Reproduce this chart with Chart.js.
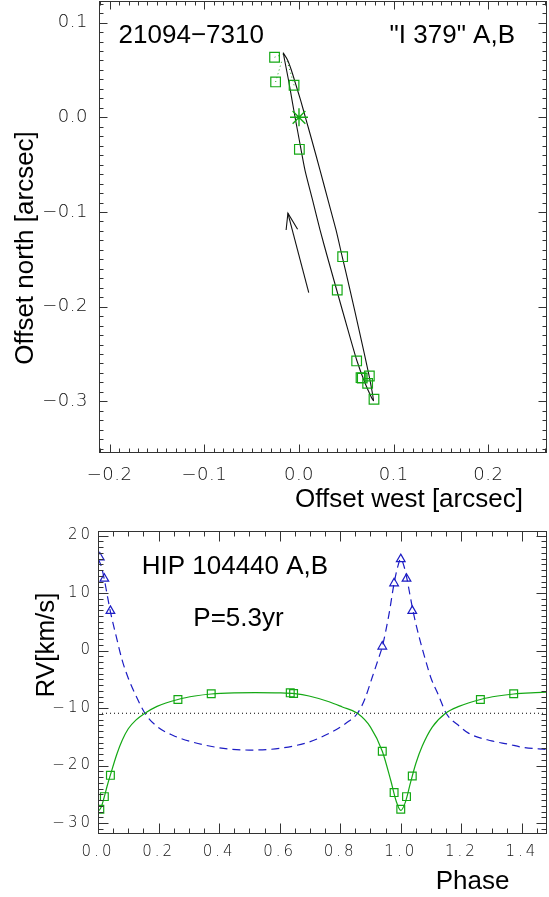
<!DOCTYPE html>
<html>
<head>
<meta charset="utf-8">
<script src="https://cdn.jsdelivr.net/npm/chart.js@4"></script>
<style>
  html, body { margin: 0; padding: 0; background: #fff; }
  #page { position: relative; width: 549px; height: 897px; overflow: hidden; }
  .panel { position: absolute; left: 0; }
</style>
</head>
<body>
<div id="page">
  <div class="panel" style="top:0"><canvas id="orbit" width="549" height="520"></canvas></div>
  <div class="panel" style="top:520px"><canvas id="rv" width="549" height="377"></canvas></div>
</div>
<script>
// ---- orbit panel (arcsec) ----
const obsWest  = [-0.0258, -0.0247, -0.0052, 0.0004, 0.0461, 0.0404, 0.0609, 0.0655, 0.0668, 0.0743, 0.0725, 0.0792];
const obsNorth = [0.0634, 0.0373, 0.0338, -0.0338, -0.1472, -0.1824, -0.2573, -0.2750, -0.2755, -0.2732, -0.2810, -0.2978];
const starWest = [0];
const starNorth = [0];
// fitted orbit, once round (down the east side, back up the west side)
const orbitWest  = [-0.0166, -0.0121, -0.0081, -0.0032, 0.0016, 0.0076, 0.0135, 0.0222, 0.0306, 0.0391, 0.0457, 0.0539, 0.0634, 0.0734, 0.0787,
                    0.0768, 0.0697, 0.0609, 0.0517, 0.0398, 0.0309, 0.0222, 0.0143, 0.0063, 0.0003, -0.0036, -0.0074, -0.0111, -0.0152, -0.0166];
const orbitNorth = [0.0682, 0.0605, 0.0499, 0.0341, 0.0183, -0.0029, -0.0240, -0.0557, -0.0873, -0.1190, -0.1475, -0.1824, -0.2246, -0.2700, -0.2991,
                    -0.2964, -0.2806, -0.2563, -0.2246, -0.1824, -0.1507, -0.1190, -0.0873, -0.0557, -0.0240, -0.0029, 0.0183, 0.0394, 0.0605, 0.0682];
const arrowWest  = [0.0103, -0.0117];
const arrowNorth = [-0.1852, -0.1014];
const arrowHeadWest  = [-0.0136, -0.0117, -0.0015];
const arrowHeadNorth = [-0.1190, -0.1014, -0.1183];
const residWest  = [[-0.0258, -0.0175], [-0.0247, -0.0183], [-0.0052, -0.0135]];
const residNorth = [[0.0634, 0.0665], [0.0373, 0.0590], [0.0338, 0.0630]];

// ---- RV panel (km/s) ----
const phaseA = [0.006, 0.021, 0.041, 0.264, 0.374, 0.635, 0.646, 0.939, 0.978, 1.000, 1.019, 1.038, 1.263, 1.373];
const rvA    = [-27.6, -25.4, -21.7, -8.5, -7.5, -7.35, -7.45, -17.5, -24.7, -27.6, -25.4, -21.8, -8.5, -7.5];
const phaseB = [0.006, 0.021, 0.041, 0.939, 0.978, 1.000, 1.019, 1.038];
const rvB    = [16.2, 12.5, 6.9, 0.7, 11.7, 15.9, 12.5, 6.9];
const curvePhaseA = [0.000, 0.010, 0.020, 0.030, 0.040, 0.063, 0.080, 0.100, 0.125, 0.155, 0.195, 0.264, 0.320, 0.374, 0.450, 0.520, 0.600, 0.650,
                     0.697, 0.763, 0.807, 0.857, 0.900, 0.939, 0.967, 0.985, 1.000, 1.015, 1.033, 1.050, 1.071, 1.104, 1.148, 1.192, 1.263,
                     1.320, 1.373, 1.430, 1.483];
const curveRvA = [-28.0, -27.3, -25.6, -23.6, -21.8, -17.9, -15.6, -13.6, -12.1, -10.9, -9.7, -8.5, -7.9, -7.55, -7.35, -7.3, -7.35, -7.5,
                  -7.9, -8.9, -9.8, -10.9, -13.3, -17.5, -22.6, -26.2, -27.8, -26.4, -22.8, -19.6, -16.6, -13.3, -10.9, -9.7, -8.5,
                  -7.9, -7.55, -7.35, -7.25];
const curvePhaseB = [0.000, 0.010, 0.020, 0.030, 0.040, 0.060, 0.080, 0.100, 0.125, 0.155, 0.195, 0.250, 0.305, 0.400, 0.500, 0.600, 0.697,
                     0.763, 0.820, 0.857, 0.880, 0.906, 0.925, 0.939, 0.960, 0.978, 0.990, 1.000, 1.010, 1.020, 1.030, 1.040, 1.060,
                     1.082, 1.100, 1.125, 1.150, 1.195, 1.225, 1.300, 1.357, 1.400, 1.483];
const curveRvB = [16.0, 14.8, 12.6, 9.8, 7.0, 2.5, -1.7, -4.8, -7.8, -10.9, -13.2, -14.8, -15.8, -16.9, -17.3, -17.0, -15.9,
                  -14.4, -12.6, -10.9, -8.6, -4.6, -1.6, 0.7, 6.0, 11.7, 14.6, 16.0, 14.8, 12.6, 9.8, 7.0, 2.5,
                  -1.7, -4.8, -7.8, -10.9, -13.2, -14.4, -15.7, -16.3, -16.8, -17.2];
const gamma = -10.9;

const GREEN = '#14a814';
const BLUE = '#1c1cc4';
const TITLE_FONT = '26px "Liberation Sans", Arial, sans-serif';

function pts(xs, ys) {
    return xs.map((x, i) => ({ x: x, y: ys[i] }));
}

function minus(s) {
    return s.replace('-', '\u2212');
}

// pin the axis box to a fixed size and stop label overhang from moving the plot area
function pinAxis(size) {
    return function (s) {
        if (s.isHorizontal()) s.height = size; else s.width = size;
        s.paddingLeft = s.paddingRight = s.paddingTop = s.paddingBottom = 0;
        s.getPadding = () => ({ left: 0, top: 0, right: 0, bottom: 0 });
    };
}

// box, inward ticks on all four sides, free text
function makeFrame(cfg) {
    return {
        id: 'frame',
        beforeDraw(chart) {
            chart.ctx.letterSpacing = cfg.spacing;
        },
        beforeDatasetsDraw(chart) {
            chart.ctx.letterSpacing = '0px';
        },
        afterDraw(chart) {
            const ctx = chart.ctx;
            const a = chart.chartArea;
            const sx = chart.scales.x;
            const sy = chart.scales.y;
            ctx.save();
            ctx.strokeStyle = '#333';
            ctx.lineWidth = 1;
            const L = Math.round(a.left) + 0.5, R = Math.round(a.right) - 0.5;
            const T = Math.round(a.top) + 0.5, B = Math.round(a.bottom) - 0.5;
            ctx.strokeRect(L, T, R - L, B - T);
            ctx.beginPath();
            const values = (scale, step) => {
                const out = [];
                for (let k = Math.ceil(scale.min / step - 1e-6); k * step <= scale.max + 1e-9; k++) out.push(k * step);
                return out;
            };
            const isMajor = (v, step) => Math.abs(v / step - Math.round(v / step)) < 1e-6;
            values(sx, cfg.xMinor).forEach(v => {
                const px = Math.round(sx.getPixelForValue(v)) + 0.5;
                const len = isMajor(v, cfg.xMajor) ? cfg.major : cfg.minor;
                ctx.moveTo(px, B); ctx.lineTo(px, B - len);
                ctx.moveTo(px, T); ctx.lineTo(px, T + len);
            });
            values(sy, cfg.yMinor).forEach(v => {
                const py = Math.round(sy.getPixelForValue(v)) + 0.5;
                const len = isMajor(v, cfg.yMajor) ? cfg.major : cfg.minor;
                ctx.moveTo(L, py); ctx.lineTo(L + len, py);
                ctx.moveTo(R, py); ctx.lineTo(R - len, py);
            });
            ctx.stroke();

            ctx.fillStyle = '#000';
            ctx.font = TITLE_FONT;
            ctx.textBaseline = 'alphabetic';
            cfg.texts.forEach(t => {
                ctx.save();
                ctx.textAlign = t.align;
                ctx.translate(t.x, t.y);
                if (t.rotate) ctx.rotate(-Math.PI / 2);
                ctx.fillText(t.text, 0, 0);
                ctx.restore();
            });
            ctx.restore();
        }
    };
}

function tickFont(size) {
    return { family: '"DejaVu Sans", sans-serif', size: size, weight: '300' };
}

const noGrid = { display: false, drawTicks: false };
const TICK_COLOR = '#111';

function load() {
    const squareStyle = {
        pointStyle: 'rect',
        backgroundColor: 'rgba(0,0,0,0)',
        borderColor: GREEN,
        borderWidth: 1.2,
        showLine: false
    };

    const residuals = residWest.map((w, i) => ({
        data: pts(w, residNorth[i]),
        showLine: true,
        pointRadius: 0,
        borderColor: GREEN,
        borderWidth: 1,
        borderDash: [1, 3]
    }));

    new Chart(document.getElementById('orbit'), {
        type: 'scatter',
        data: {
            datasets: [
                Object.assign({ data: pts(obsWest, obsNorth), pointRadius: 6.8 }, squareStyle),
                { data: pts(starWest, starNorth), pointStyle: 'star', pointRadius: 9, borderColor: GREEN, borderWidth: 1.4 },
                { data: pts(orbitWest, orbitNorth), showLine: true, pointRadius: 0, borderColor: '#111', borderWidth: 1.1, tension: 0.2 },
                { data: pts(arrowWest, arrowNorth), showLine: true, pointRadius: 0, borderColor: '#111', borderWidth: 1.1 },
                { data: pts(arrowHeadWest, arrowHeadNorth), showLine: true, pointRadius: 0, borderColor: '#111', borderWidth: 1.1 },
                ...residuals
            ]
        },
        options: {
            responsive: false,
            animation: false,
            events: [],
            layout: { autoPadding: false, padding: { left: 0, top: 1, right: 2, bottom: 0 } },
            plugins: { legend: { display: false }, tooltip: { enabled: false } },
            scales: {
                x: {
                    type: 'linear', min: -0.2112, max: 0.2619,
                    grid: noGrid, border: { display: false },
                    ticks: {
                        stepSize: 0.1, includeBounds: false, autoSkip: false, maxRotation: 0,
                        padding: 12, color: TICK_COLOR, font: tickFont(18),
                        callback: v => Math.abs(v) < 1e-9 ? '0.0' : minus(v.toFixed(1))
                    },
                    afterFit: pinAxis(67.5)
                },
                y: {
                    type: 'linear', min: -0.354, max: 0.1228,
                    grid: noGrid, border: { display: false },
                    ticks: {
                        stepSize: 0.1, includeBounds: false, autoSkip: false,
                        padding: 11, color: TICK_COLOR, font: tickFont(18),
                        callback: v => Math.abs(v) < 1e-9 ? '0.0' : minus(v.toFixed(1))
                    },
                    afterFit: pinAxis(99)
                }
            }
        },
        plugins: [makeFrame({
            spacing: '0.5px', xMinor: 0.01, xMajor: 0.1, yMinor: 0.01, yMajor: 0.1, major: 8, minor: 4,
            texts: [
                { text: '21094\u22127310', x: 118.6, y: 43.3, align: 'left' },
                { text: '"I 379" A,B', x: 515, y: 43.3, align: 'right' },
                { text: 'Offset north [arcsec]', x: 32.5, y: 248, align: 'center', rotate: true },
                { text: 'Offset west [arcsec]', x: 409, y: 507, align: 'center' }
            ]
        })]
    });

    new Chart(document.getElementById('rv'), {
        type: 'scatter',
        data: {
            datasets: [
                Object.assign({ data: pts(phaseA, rvA), pointRadius: 5.5 }, squareStyle),
                { data: pts(phaseB, rvB), pointStyle: 'triangle', pointRadius: 5, backgroundColor: 'rgba(0,0,0,0)', borderColor: BLUE, borderWidth: 1.2 },
                { data: pts(curvePhaseA, curveRvA), showLine: true, pointRadius: 0, borderColor: GREEN, borderWidth: 1.2, cubicInterpolationMode: 'monotone' },
                { data: pts(curvePhaseB, curveRvB), showLine: true, pointRadius: 0, borderColor: BLUE, borderWidth: 1.2, borderDash: [8, 5], cubicInterpolationMode: 'monotone' },
                { data: [{ x: 0, y: gamma }, { x: 1.483, y: gamma }], showLine: true, pointRadius: 0, borderColor: '#000', borderWidth: 1, borderDash: [1, 3] }
            ]
        },
        options: {
            responsive: false,
            animation: false,
            events: [],
            layout: { autoPadding: false, padding: { left: 0, top: 11, right: 2, bottom: 0 } },
            plugins: { legend: { display: false }, tooltip: { enabled: false } },
            scales: {
                x: {
                    type: 'linear', min: 0, max: 1.483,
                    grid: noGrid, border: { display: false },
                    ticks: {
                        stepSize: 0.2, includeBounds: false, autoSkip: false, maxRotation: 0,
                        padding: 9, color: TICK_COLOR, font: tickFont(15),
                        callback: v => v.toFixed(1)
                    },
                    afterFit: pinAxis(63)
                },
                y: {
                    type: 'linear', min: -31.9, max: 20.8,
                    grid: noGrid, border: { display: false },
                    ticks: {
                        stepSize: 10, includeBounds: false, autoSkip: false,
                        padding: 5, color: TICK_COLOR, font: tickFont(15),
                        callback: v => minus(String(Math.round(v)))
                    },
                    afterFit: pinAxis(98)
                }
            }
        },
        plugins: [makeFrame({
            spacing: '3px', xMinor: 0.05, xMajor: 0.2, yMinor: 1, yMajor: 10, major: 10, minor: 5,
            texts: [
                { text: 'HIP 104440 A,B', x: 141.7, y: 54.3, align: 'left' },
                { text: 'P=5.3yr', x: 193.3, y: 106, align: 'left' },
                { text: 'RV[km/s]', x: 54.3, y: 125, align: 'center', rotate: true },
                { text: 'Phase', x: 472.5, y: 369, align: 'center' }
            ]
        })]
    });
}

window.addEventListener('load', () => {
    load();
});
</script>
</body>
</html>
